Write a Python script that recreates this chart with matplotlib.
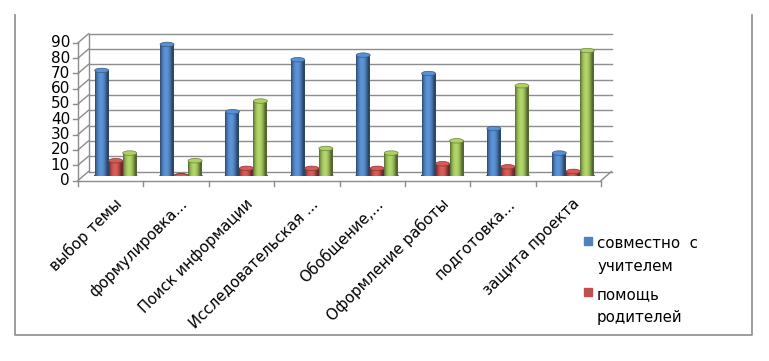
import numpy as np
import matplotlib.pyplot as plt
from matplotlib.patches import Rectangle, Ellipse
from matplotlib.transforms import ScaledTranslation
from matplotlib.lines import Line2D

# ---------------------------------------------------------------------------
# Data
# ---------------------------------------------------------------------------

categories = ["выбор темы", "формулировка...", "Поиск информации",
              "Исследовательская ...", "Обобщение,...", "Оформление работы",
              "подготовка...", "защита проекта"]
teacher     = [69, 86, 42, 76, 79, 67, 31, 15]   # совместно с учителем
parents     = [10, 0, 5, 5, 5, 8, 6, 3]          # помощь родителей
independent = [15, 10, 49, 18, 15, 23, 59, 82]   # third series (legend cut off)
yticks      = list(range(0, 100, 10))

series = [(teacher, "#4F81BD"), (parents, "#C0504D"), (independent, "#9BBB59")]
legend_items = [("совместно  с\nучителем", "#4F81BD"), ("помощь\nродителей", "#C0504D")]

# ---------------------------------------------------------------------------
# Figure / pseudo-3D frame
# ---------------------------------------------------------------------------

W, H, DPI = 769, 361, 100
fig = plt.figure(figsize=(W / DPI, H / DPI), dpi=DPI)
plt.rcParams["font.family"] = ["DejaVu Sans"]
FS = 10.5
GRID = "#8C8C8C"

# axes = the mid-depth plane where the cylinders stand
ax = fig.add_axes([83 / W, (H - 176) / H, (606 - 83) / W, (176 - 38.3) / H])
ax.set_xlim(0, len(categories))
ax.set_ylim(0, 90)
ax.axis("off")

front = ax.transData + ScaledTranslation(-5 / DPI, -4.5 / DPI, fig.dpi_scale_trans)
back  = ax.transData + ScaledTranslation(5.5 / DPI, 4.5 / DPI, fig.dpi_scale_trans)
n = len(categories)

# outer chart border (top is cropped in the reference)
fig.add_artist(Line2D([15 / W, 15 / W, 752 / W, 752 / W],
                      [(H - 15) / H, (H - 335) / H, (H - 335) / H, (H - 15) / H],
                      color="#8C8C8C", lw=1.2))

# back wall gridlines + left wall diagonals
for v in yticks:
    ax.plot([0, n], [v, v], color=GRID, lw=1, transform=back, clip_on=False)
    p0 = front.transform((0, v))
    p1 = back.transform((0, v))
    fig.add_artist(Line2D([p0[0] / W, p1[0] / W], [p0[1] / H, p1[1] / H], color=GRID, lw=1))
    # tick on the front axis
    fig.add_artist(Line2D([(p0[0] - 5) / W, p0[0] / W], [p0[1] / H, p0[1] / H], color=GRID, lw=1))
    fig.text((p0[0] - 8) / W, p0[1] / H, str(v), ha="right", va="center", fontsize=FS + 0.5)

# front axis lines and floor
ax.plot([0, 0], [0, 90], color=GRID, lw=1, transform=front, clip_on=False)
ax.plot([0, 0], [0, 90], color=GRID, lw=1, transform=back, clip_on=False)
ax.plot([0, n], [0, 0], color=GRID, lw=1, transform=front, clip_on=False)
pr0 = front.transform((n, 0))
pr1 = back.transform((n, 0))
fig.add_artist(Line2D([pr0[0] / W, pr1[0] / W], [pr0[1] / H, pr1[1] / H], color=GRID, lw=1))
for k in range(n + 1):
    p = front.transform((k, 0))
    fig.add_artist(Line2D([p[0] / W, p[0] / W], [p[1] / H, (p[1] - 5) / H], color=GRID, lw=1))

# ---------------------------------------------------------------------------
# Cylinders
# ---------------------------------------------------------------------------

bw = 14 / 65.375
px_per_unit = (176 - 38.3) / 90
ell_h = 4.5 / px_per_unit
t = np.linspace(0, 1, 40)
shade = 0.55 + 0.6 * np.sin(np.pi * np.clip(t * 1.15, 0, 1)) ** 0.8

for i, (vals, col) in enumerate(series):
    rgb = np.array(plt.matplotlib.colors.to_rgb(col))
    grad = np.clip(rgb[None, None, :] * shade[None, :, None], 0, 1)
    top_col = np.clip(rgb * 1.12, 0, 1)
    for j, v in enumerate(vals):
        xl = j + 0.5 - 1.5 * bw + i * bw
        xc = xl + bw / 2
        ax.add_patch(Ellipse((xc, 0), bw, ell_h, color=rgb * 0.6, zorder=3))
        if v > 0:
            body = Rectangle((xl, 0), bw, v, facecolor="none", edgecolor="none", zorder=4)
            ax.add_patch(body)
            im = ax.imshow(grad, extent=(xl, xl + bw, 0, v), aspect="auto", zorder=4,
                           interpolation="bilinear")
            im.set_clip_path(body)
        ax.add_patch(Ellipse((xc, v), bw, ell_h, facecolor=top_col,
                             edgecolor=rgb * 0.7, lw=0.5, zorder=5))

ax.set_xlim(0, n)
ax.set_ylim(0, 90)

# ---------------------------------------------------------------------------
# Category labels and legend
# ---------------------------------------------------------------------------

for k, name in enumerate(categories):
    p = front.transform((k + 0.5, 0))
    fig.text((p[0] + 9) / W, (p[1] - 21) / H, name, rotation=45, rotation_mode="anchor",
             ha="right", va="center", fontsize=FS + 0.3)

for m, (lab, col) in enumerate(legend_items):
    y = H - (241 + m * 51)
    fig.add_artist(Rectangle(((584) / W, (y - 4) / H), 8 / W, 8 / H, color=col))
    fig.text(597 / W, (y + 5) / H, lab, ha="left", va="top", fontsize=FS + 0.3, linespacing=1.7)

plt.savefig("out.png", dpi=DPI)
